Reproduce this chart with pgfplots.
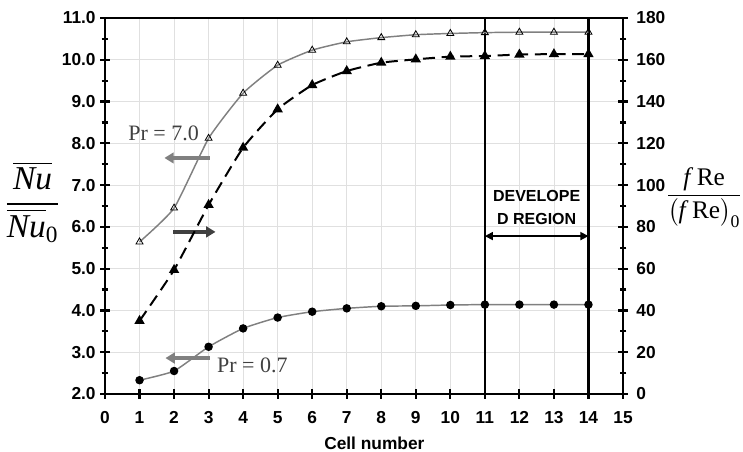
\documentclass[border=0pt]{standalone}
\usepackage{amsmath}
\usepackage{pgfplots}
\pgfplotsset{compat=1.18}
\usepackage{fontspec}
\setmainfont{Liberation Serif}
\setsansfont{Liberation Sans}
\usetikzlibrary{arrows.meta}

\definecolor{lgray}{RGB}{128,128,128}
\definecolor{dgray}{RGB}{64,64,64}

\pgfplotsset{
  base/.style={
    scale only axis, width=388.5pt, height=282pt,
    at={(78.75pt,43.5pt)}, anchor=south west,
    xmin=0, xmax=15, clip=false,
    tick align=center,
    /pgf/number format/assume math mode=true,
    ticklabel style={font=\sffamily\bfseries\fontsize{13}{15}\selectfont},
    major tick length=7pt, minor tick length=5pt,
    every tick/.style={black, line width=1.6pt},
  },
}

\begin{document}
\begin{tikzpicture}
\useasboundingbox (0,0) rectangle (557.25pt,339pt);

\begin{axis}[base,
    ymin=2, ymax=11,
    xtick={0,...,15}, ytick={2,...,11}, minor y tick num=1,
    xtick pos=bottom, ytick pos=left,
    axis line style={line width=2pt},
    grid=major, major grid style={black!12, line width=0.6pt},
    yticklabel={\pgfmathprintnumber[fixed,fixed zerofill,precision=1]{\tick}},
    xticklabel style={yshift=-6pt},
]
% developed region
\draw[black, line width=1.6pt] (axis cs:11,2) -- (axis cs:11,11);
\draw[black, line width=1.6pt] (axis cs:14,2) -- (axis cs:14,11);
\draw[black, line width=1.2pt, {Triangle[length=6pt,width=6pt]}-{Triangle[length=6pt,width=6pt]}]
    (axis cs:11,5.78) -- (axis cs:14,5.78);
\node[font=\sffamily\bfseries\fontsize{12}{17}\selectfont, align=center]
    at (axis cs:12.5,6.47) {DEVELOPE\\D REGION};

% Pr = 7.0, Nu ratio
\addplot[lgray, line width=1.1pt, smooth, tension=0.3, mark=triangle,
    mark options={solid, fill=white, draw=black, line width=0.6pt, scale=1.5}]
    coordinates {(1,5.64) (2,6.45) (3,8.12) (4,9.20) (5,9.87) (6,10.23) (7,10.43)
                 (8,10.53) (9,10.60) (10,10.63) (11,10.65) (12,10.66) (13,10.66) (14,10.66)};

% Pr = 0.7, Nu ratio
\addplot[lgray, line width=1.1pt, smooth, tension=0.3, mark=*,
    mark options={solid, fill=black, draw=black, scale=1.3}]
    coordinates {(1,2.33) (2,2.55) (3,3.13) (4,3.57) (5,3.83) (6,3.97) (7,4.05)
                 (8,4.10) (9,4.11) (10,4.13) (11,4.14) (12,4.14) (13,4.14) (14,4.14)};

% annotation arrows
\draw[lgray, line width=3pt, -{Triangle[length=7pt,width=8pt]}]
    (axis cs:3.04,7.65) -- (axis cs:1.72,7.65);
\draw[dgray, line width=3pt, -{Triangle[length=7pt,width=8pt]}]
    (axis cs:1.97,5.88) -- (axis cs:3.2,5.88);
\draw[lgray, line width=3pt, -{Triangle[length=7pt,width=8pt]}]
    (axis cs:3.04,2.86) -- (axis cs:1.75,2.86);
\node[dgray, anchor=west, font=\fontsize{16.5}{18}\selectfont, inner sep=0pt]
    at (axis cs:0.67,8.25) {Pr = 7.0};
\node[dgray, anchor=west, font=\fontsize{16.5}{18}\selectfont, inner sep=0pt]
    at (axis cs:3.24,2.69) {Pr = 0.7};

% axis titles
\node[font=\sffamily\bfseries\fontsize{13}{15}\selectfont]
    at (axis cs:7.8,0.82) {Cell number};
\node[font=\fontsize{25}{29}\selectfont, inner sep=0pt]
    at (axis cs:-2.1,6.6)
    {$\displaystyle\frac{\overline{\textit{Nu}}}{\overline{\textit{Nu}}_{\textrm{0}}}$};
\node[font=\fontsize{19}{23}\selectfont, inner sep=0pt]
    at (axis cs:17.35,6.7)
    {$\displaystyle\frac{\textit{f}\;\textrm{Re}}{\bigl(\textit{f}\;\textrm{Re}\bigr)_{\textrm{0}}}$};
\end{axis}

\begin{axis}[base,
    ymin=0, ymax=180,
    axis x line=none, axis y line*=right,
    ytick={0,20,...,180}, minor y tick num=1,
    axis line style={line width=2pt},
    yticklabel={\pgfmathprintnumber[fixed,precision=0]{\tick}},
    yticklabel style={xshift=3pt},
]
% f Re ratio
\addplot[black, line width=1.5pt, smooth, tension=0.3, dash pattern=on 9pt off 5pt, mark=triangle*,
    mark options={solid, fill=black, draw=black, scale=1.5}]
    coordinates {(1,35.0) (2,59.4) (3,90.5) (4,117.9) (5,136.3) (6,147.9) (7,154.6)
                 (8,158.6) (9,160.2) (10,161.5) (11,161.8) (12,162.5) (13,162.7) (14,162.7)};
\end{axis}
\end{tikzpicture}
\end{document}
